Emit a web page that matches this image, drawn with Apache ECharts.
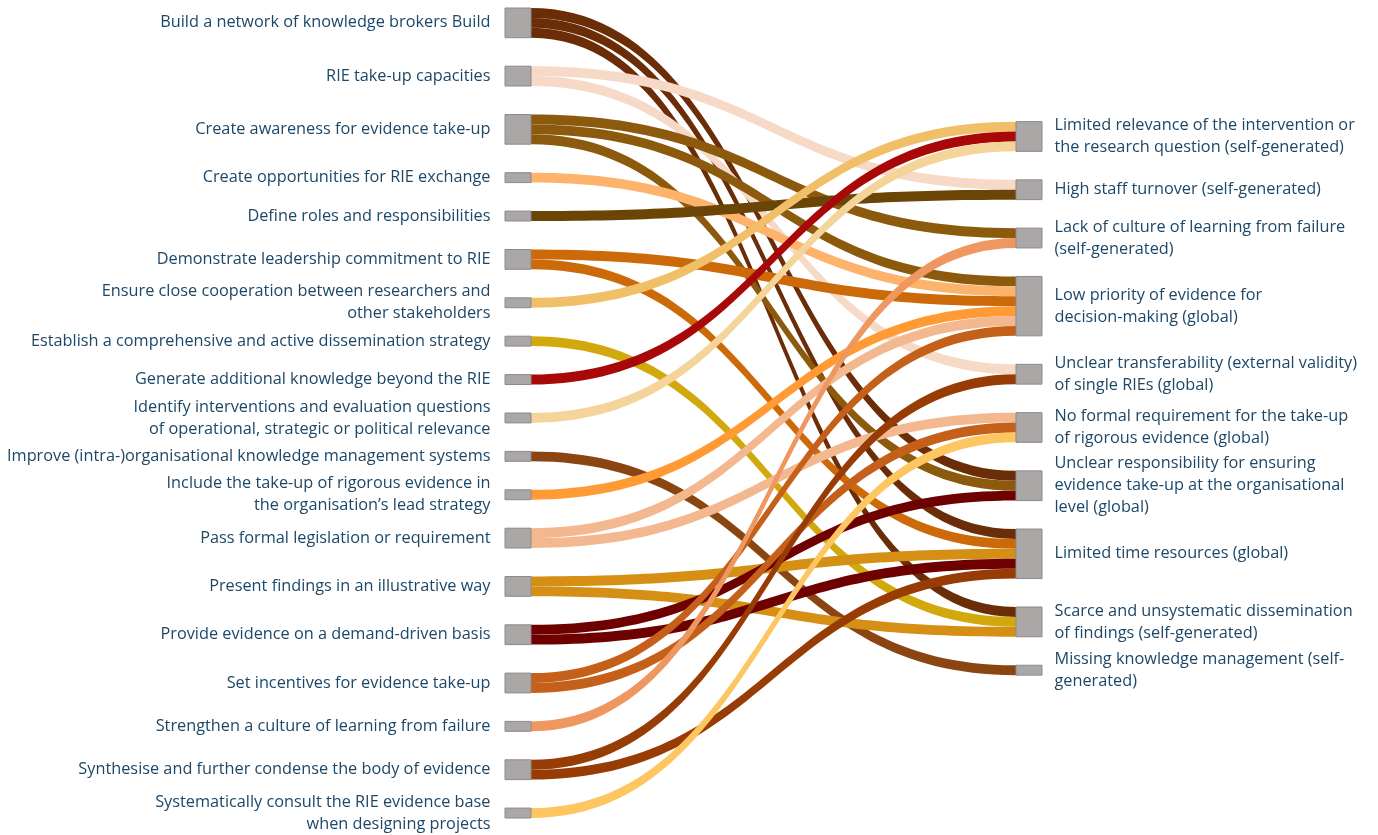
<!DOCTYPE html>
<html>
<head>
<meta charset="utf-8">
<script src="https://cdn.jsdelivr.net/npm/echarts@6/dist/echarts.min.js"></script>
<style>
  html, body { margin: 0; padding: 0; background: #fff; }
  #chart { width: 1378px; height: 835px; }
</style>
</head>
<body>
<div id="chart"></div>
<script>
// measures (left column)
const measures = [
  "Build a network of knowledge brokers Build",
  "RIE take-up capacities",
  "Create awareness for evidence take-up",
  "Create opportunities for RIE exchange",
  "Define roles and responsibilities",
  "Demonstrate leadership commitment to RIE",
  "Ensure close cooperation between researchers and\nother stakeholders",
  "Establish a comprehensive and active dissemination strategy",
  "Generate additional knowledge beyond the RIE",
  "Identify interventions and evaluation questions\nof operational, strategic or political relevance",
  "Improve (intra-)organisational knowledge management systems",
  "Include the take-up of rigorous evidence in\nthe organisation\u2019s lead strategy",
  "Pass formal legislation or requirement",
  "Present findings in an illustrative way",
  "Provide evidence on a demand-driven basis",
  "Set incentives for evidence take-up",
  "Strengthen a culture of learning from failure",
  "Synthesise and further condense the body of evidence",
  "Systematically consult the RIE evidence base\nwhen designing projects"
];

// barriers (right column)
const barriers = [
  "Limited relevance of the intervention or\nthe research question (self-generated)",
  "High staff turnover (self-generated)",
  "Lack of culture of learning from failure\n(self-generated)",
  "Low priority of evidence for\ndecision-making (global)",
  "Unclear transferability (external validity)\nof single RIEs (global)",
  "No formal requirement for the take-up\nof rigorous evidence (global)",
  "Unclear responsibility for ensuring\nevidence take-up at the organisational\nlevel (global)",
  "Limited time resources (global)",
  "Scarce and unsystematic dissemination\nof findings (self-generated)",
  "Missing knowledge management (self-\ngenerated)"
];

// links: [measure index, barrier index, value]
const links = [
  [0, 6, 1], [0, 7, 1], [0, 8, 1],
  [1, 1, 1], [1, 4, 1],
  [2, 2, 1], [2, 3, 1], [2, 6, 1],
  [3, 3, 1],
  [4, 1, 1],
  [5, 3, 1], [5, 7, 1],
  [6, 0, 1],
  [7, 8, 1],
  [8, 0, 1],
  [9, 0, 1],
  [10, 9, 1],
  [11, 3, 1],
  [12, 3, 1], [12, 5, 1],
  [13, 7, 1], [13, 8, 1],
  [14, 6, 1], [14, 7, 1],
  [15, 3, 1], [15, 5, 1],
  [16, 2, 1],
  [17, 4, 1], [17, 7, 1],
  [18, 5, 1]
];

const measureColors = [
  "#6b2c08", "#f6d9c6", "#8c5a0c", "#fdb36b", "#6b4506",
  "#cc6a0a", "#f1bf68", "#d1a90d", "#a80808", "#f5d49a",
  "#8a4513", "#ff9a35", "#f4b890", "#d48f14", "#6e0000",
  "#c5601a", "#ef9760", "#983c06", "#fdc660"
];

const textColor = "#1d4767";
const fontFamily = "'Open Sans', 'Noto Sans', sans-serif";

const nodeStyle = { color: "#aba7a7", borderColor: "#8c8989", borderWidth: 1 };

const nodes = [];
measures.forEach(function (name) {
  nodes.push({
    name: name,
    depth: 0,
    itemStyle: nodeStyle,
    label: { position: "left", align: "right", distance: 14 }
  });
});
// invisible spacer that pushes the barrier column down
nodes.push({
  name: "__spacer",
  depth: 1,
  value: 8.6,
  itemStyle: { opacity: 0 },
  label: { show: false },
  emphasis: { disabled: true },
  tooltip: { show: false }
});
barriers.forEach(function (name) {
  nodes.push({
    name: name,
    depth: 1,
    itemStyle: nodeStyle,
    label: { position: "right", align: "left", distance: 12 }
  });
});

const edges = links.map(function (l) {
  return {
    source: measures[l[0]],
    target: barriers[l[1]],
    value: l[2],
    lineStyle: { color: measureColors[l[0]], opacity: 1 }
  };
});

const myChart = echarts.init(document.getElementById("chart"));
myChart.setOption({
  animation: false,
  backgroundColor: "#ffffff",
  tooltip: { show: true, trigger: "item" },
  series: [
    {
      type: "sankey",
      left: 505,
      right: 336,
      top: 8,
      bottom: 17,
      nodeWidth: 26,
      nodeGap: 28.5,
      layoutIterations: 0,
      nodeAlign: "justify",
      data: nodes,
      links: edges,
      lineStyle: { curveness: 0.5, opacity: 1 },
      label: {
        color: textColor,
        fontFamily: fontFamily,
        fontSize: 16.3,
        lineHeight: 22
      },
      emphasis: { focus: "none" }
    }
  ]
});
</script>
</body>
</html>
